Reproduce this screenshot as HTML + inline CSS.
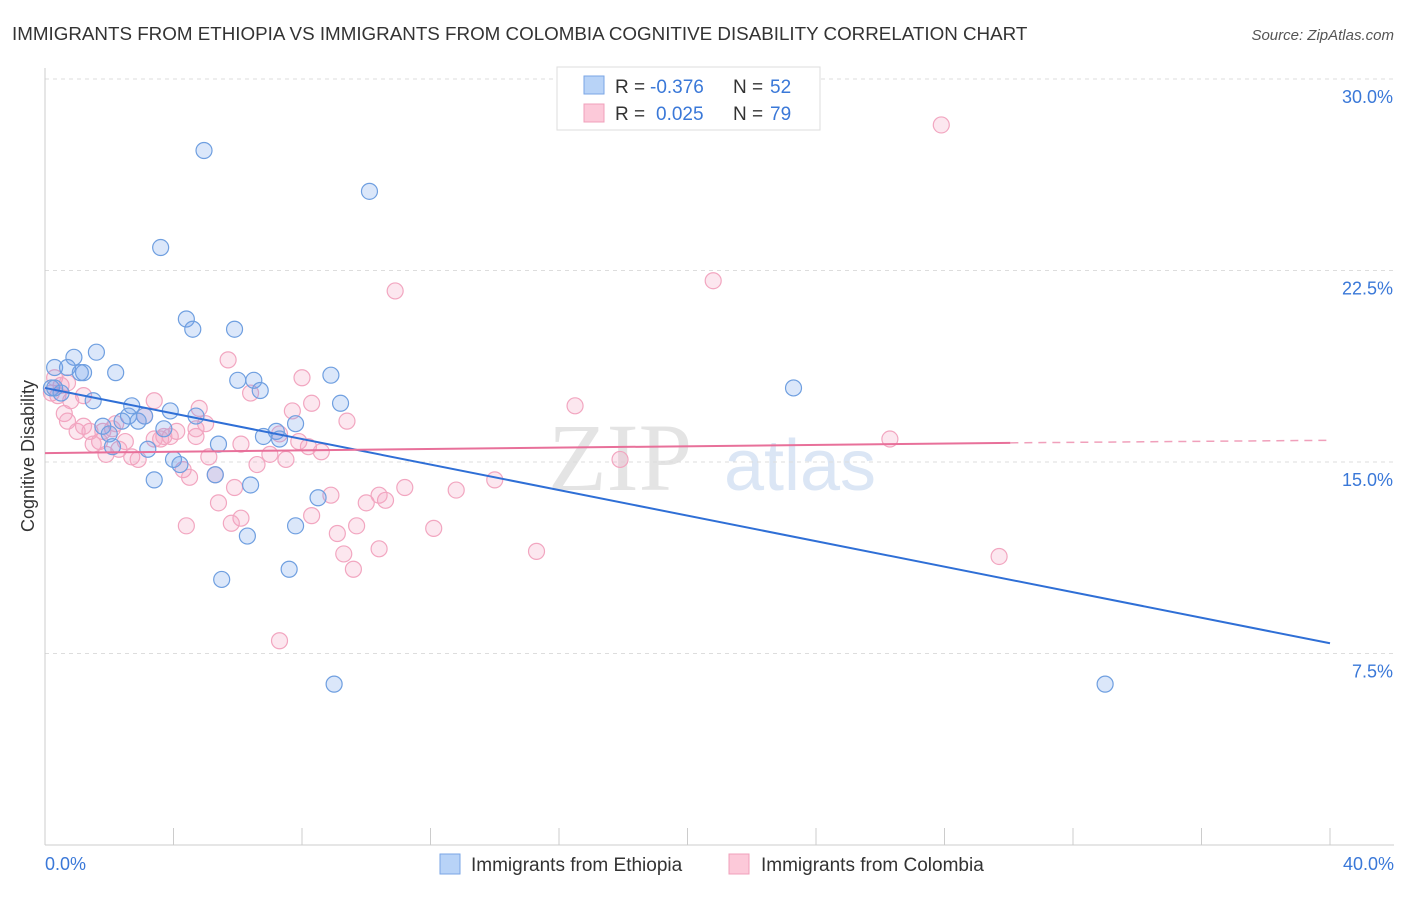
<!DOCTYPE html>
<html><head><meta charset="utf-8"><style>
body{margin:0;background:#fff;font-family:"Liberation Sans",sans-serif;}
</style></head><body>
<svg id="chart" width="1406" height="892" xmlns="http://www.w3.org/2000/svg">
<text x="12" y="40" font-size="18.8" fill="#333">IMMIGRANTS FROM ETHIOPIA VS IMMIGRANTS FROM COLOMBIA COGNITIVE DISABILITY CORRELATION CHART</text>
<text x="1394" y="40" font-size="15" fill="#555" font-style="italic" text-anchor="end">Source: ZipAtlas.com</text>
<text x="620" y="490" font-size="96" fill="#e4e4e4" font-family="Liberation Serif,serif" text-anchor="middle">ZIP</text>
<text x="800" y="490" font-size="72" fill="#dbe6f5" text-anchor="middle">atlas</text>
<text transform="translate(34,456) rotate(-90)" font-size="18" fill="#333" text-anchor="middle">Cognitive Disability</text>
<g id="grid"></g><g id="pts"></g><g id="lines"></g>
<g>
<rect x="557" y="67" width="263" height="63" fill="#fff" stroke="#ddd"/>
<rect x="584" y="76" width="20" height="18" fill="#b8d3f7" stroke="#7aa6e6"/>
<rect x="584" y="104" width="20" height="18" fill="#fcc9d9" stroke="#f0a0bb"/>
<text y="93" font-size="19" fill="#333"><tspan x="615">R =</tspan><tspan x="650" fill="#3a78d8">-0.376</tspan><tspan x="733">N =</tspan><tspan x="770" fill="#3a78d8">52</tspan></text>
<text y="120" font-size="19" fill="#333"><tspan x="615">R =</tspan><tspan x="656" fill="#3a78d8">0.025</tspan><tspan x="733">N =</tspan><tspan x="770" fill="#3a78d8">79</tspan></text>
</g>
<g>
<rect x="440" y="854" width="20" height="20" fill="#b8d3f7" stroke="#7aa6e6"/>
<text x="471" y="871" font-size="19" fill="#333">Immigrants from Ethiopia</text>
<rect x="729" y="854" width="20" height="20" fill="#fcc9d9" stroke="#f0a0bb"/>
<text x="761" y="871" font-size="19" fill="#333">Immigrants from Colombia</text>
</g>
</svg>
<script>
const yTicks=[7.5,15,22.5,30];
const yTickLabels=["7.5%","15.0%","22.5%","30.0%"];
const ethX=[4.95,10.1,3.6,4.4,4.6,5.9,1.6,0.9,0.3,0.7,1.2,1.1,2.2,8.9,6.0,6.5,6.7,0.2,0.5,1.5,9.2,2.7,3.9,4.7,2.6,3.1,2.4,2.9,1.8,3.7,2.0,7.8,7.2,6.8,7.3,5.4,3.2,2.1,4.0,4.2,5.3,3.4,6.4,8.5,7.8,6.3,5.5,7.6,9.0,23.3,33.0,0.3];
const ethY=[27.2,25.6,23.4,20.6,20.2,20.2,19.3,19.1,18.7,18.7,18.5,18.5,18.5,18.4,18.2,18.2,17.8,17.9,17.7,17.4,17.3,17.2,17.0,16.8,16.8,16.8,16.6,16.6,16.4,16.3,16.1,16.5,16.2,16.0,15.9,15.7,15.5,15.6,15.1,14.9,14.5,14.3,14.1,13.6,12.5,12.1,10.4,10.8,6.3,17.9,6.3,17.9];
const colX=[27.9,20.8,10.9,5.7,8.0,0.3,0.2,0.4,1.2,0.8,3.4,4.8,8.3,7.7,6.4,16.5,0.6,0.7,9.4,5.0,2.2,3.1,1.4,1.0,1.8,4.1,1.7,2.5,3.7,3.9,4.7,6.1,7.3,7.9,8.2,8.6,1.5,2.3,2.7,1.9,2.9,3.6,5.1,6.6,7.0,7.5,26.3,17.9,4.3,5.3,4.5,5.9,11.2,12.8,14.0,8.9,5.4,10.0,10.6,10.4,8.3,6.1,5.8,9.7,4.4,12.1,9.1,10.4,9.3,15.3,9.6,29.7,7.3,0.5,0.7,4.7,3.4,1.2,2.1];
const colY=[28.2,22.1,21.7,19.0,18.3,18.3,17.7,17.6,17.6,17.4,17.4,17.1,17.3,17.0,17.7,17.2,16.9,16.6,16.6,16.5,16.5,16.8,16.2,16.2,16.2,16.2,15.8,15.8,16.0,16.0,16.0,15.7,16.1,15.8,15.6,15.4,15.7,15.5,15.2,15.3,15.1,15.9,15.2,14.9,15.3,15.1,15.9,15.1,14.7,14.5,14.4,14.0,14.0,13.9,14.3,13.7,13.4,13.4,13.5,13.7,12.9,12.8,12.6,12.5,12.5,12.4,12.2,11.6,11.4,11.5,10.8,11.3,8.0,18.0,18.1,16.3,15.9,16.4,16.3];
const NS="http://www.w3.org/2000/svg";
const X=v=>45+v/40*1285, Y=v=>845-v/7.5*191.5;
function mk(tag,attrs,parent){const e=document.createElementNS(NS,tag);for(const k in attrs)e.setAttribute(k,attrs[k]);document.getElementById(parent).appendChild(e);return e;}
yTicks.forEach((t,i)=>{
  const l=mk('line',{x1:45,x2:1394,y1:Y(t),y2:Y(t),stroke:'#ddd','stroke-dasharray':'4,4'},'grid');
  
  
  const tx=mk('text',{x:1393,y:Y(t)+24,'font-size':18,fill:'#3a78d8','text-anchor':'end'},'grid');
  tx.textContent=yTickLabels[i];
  
  
});
const ax=mk('line',{x1:45,x2:45,y1:68,y2:845,stroke:'#ccc'},'grid');


const bx=mk('line',{x1:45,x2:1394,y1:845,y2:845,stroke:'#ccc'},'grid');


for(let i=0;i<=10;i++){const t=mk('line',{x1:X(i*4),x2:X(i*4),y1:828,y2:845,stroke:'#ccc'},'grid');
  
  }
[["0.0%",45,'start'],["40.0%",1394,'end']].forEach(a=>{const t=mk('text',{x:a[1],y:870,'font-size':18,fill:'#3a78d8','text-anchor':a[2]},'grid');t.textContent=a[0];
  
  });
colX.forEach((v,i)=>{const c=mk('circle',{cx:X(v),cy:Y(colY[i]),r:8,fill:'rgba(245,160,190,0.25)',stroke:'#f2a6c0','stroke-width':1.2},'pts');
  
  });
ethX.forEach((v,i)=>{const c=mk('circle',{cx:X(v),cy:Y(ethY[i]),r:8,fill:'rgba(110,160,235,0.25)',stroke:'#6f9fe0','stroke-width':1.2},'pts');
  
  });
const b=mk('line',{x1:X(0),y1:Y(17.9),x2:X(40),y2:Y(7.9),stroke:'#2f6fd6','stroke-width':2},'lines');


const p=mk('line',{x1:X(0),y1:Y(15.35),x2:X(30.05),y2:Y(15.75),stroke:'#e8709a','stroke-width':2},'lines');


const pd=mk('line',{x1:X(30.05),y1:Y(15.75),x2:X(40),y2:Y(15.85),stroke:'#f0a0bb','stroke-width':1.5,'stroke-dasharray':'8,6'},'lines');


</script>
</body></html>
